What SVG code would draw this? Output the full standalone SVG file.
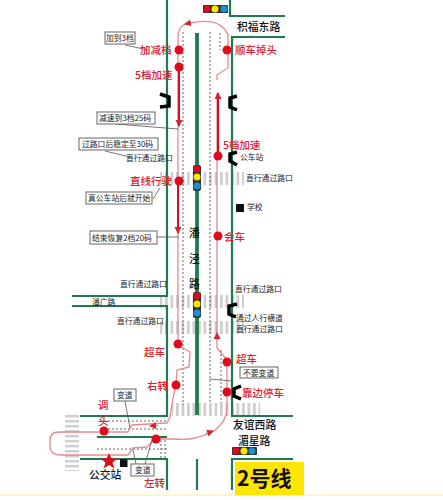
<svg xmlns="http://www.w3.org/2000/svg" width="443" height="500" viewBox="0 0 443 500">
<defs>
<marker id="a" markerWidth="8" markerHeight="8" refX="6" refY="3.500" orient="auto" markerUnits="userSpaceOnUse"><path d="M0 0L7 3.500L0 7z" fill="#d8232f"/></marker>
<pattern id="cw" width="5.500" height="10" patternUnits="userSpaceOnUse"><rect width="2.800" height="10" fill="#cfcfcf"/></pattern>
<pattern id="cwh" width="10" height="5" patternUnits="userSpaceOnUse"><rect width="10" height="2.500" fill="#cfcfcf"/></pattern>
</defs>
<style>
.r{fill:none;stroke:#1f7a4d;stroke-width:2.200}
.m{fill:none;stroke:#1f7a4d;stroke-width:3.800}
.d{fill:none;stroke:#666;stroke-width:1;stroke-dasharray:2 2}
.p{fill:none;stroke:#e58a8f;stroke-width:1.300}
.t{fill:none;stroke:#e00a1e;stroke-width:2}
.b{fill:none;stroke:#000;stroke-width:3.500}
.l{fill:none;stroke:#555;stroke-width:.8}
.dot{fill:#e00a1e}
text{font-family:"Noto Sans CJK SC","Liberation Sans",sans-serif}
.red{fill:#e0202e;font-size:10.500px;font-weight:500}
.k{fill:#222;font-size:7.800px}
.big{fill:#111;font-size:10.800px;font-weight:500}
.box{fill:#fff;stroke:#666;stroke-width:1}
</style>
<g id="crosswalks">
<rect x="160" y="172" width="84" height="13" fill="url(#cw)"/>
<rect x="160" y="295" width="84" height="13" fill="url(#cw)"/>
<rect x="160" y="321" width="84" height="13" fill="url(#cw)"/>
<rect x="172" y="403" width="88" height="13" fill="url(#cw)"/>
<rect x="65" y="415" width="14" height="56" fill="url(#cwh)"/>
</g>
<g id="roads">
<path class="r" d="M167 0V296H72M72 306H167V416H80M80 459H167V490"/>
<path class="r" d="M230 0V16H285M285 37H232V416H293M293 459H232V490"/>
<path class="r" d="M197 459V490"/>
<path class="m" d="M197 33V415"/>
<path class="r" d="M97 437H167"/>
<path class="d" d="M183 32V405M210 32V403M220 33V50M221 350V403M100 421H167M100 429H167M97 449H167M161 440V458M165 440V458"/>
</g>
<g id="connectors">
<path class="p" d="M170 417L167 423L132 425L128 432H60C52 432 50 435 50 441V446C50 451 52 455 60 455H128L133 448L147 447L155 439H175C190 441 205 436 214 431C222 425 227 418 227 408V360L217 348V93" />
<path class="p" d="M170 417L173 398L176 385L177 370L189 367L190 352L178 345V38C178 28 182 24 190 23C205 20 222 20 228 35V68L217 75V80"/>
<path class="p" d="M190 23L185 24" marker-end="url(#a)"/>
<path class="p" d="M158 425.500L150 426" marker-end="url(#a)"/>
<path class="p" d="M205 434L213 431" marker-end="url(#a)"/>
<path class="p" d="M217 340V333" marker-end="url(#a)"/>
<path class="t" d="M179 67V126" marker-end="url(#a)"/>
<path class="t" d="M218 155V93" marker-end="url(#a)"/>
<path class="t" d="M178 181V233" marker-end="url(#a)"/>
<path class="l" d="M125 45L148 50M178 129L116 124M105 151L130 157M160 188L153 199M138 237H179M209 379L232 381M125 401L130 428M136 464L133 450M145 464L152 440"/>
</g>
<g id="brackets">
<path class="b" d="M160 94L169 97V106L160 107"/>
<path class="b" d="M237 96L230 98V107L237 110"/>
<path class="b" d="M237 152L230 154V161L237 165"/>
<path class="b" d="M237 304L229 306V314L236 317" />
<path class="b" d="M241 386L234 389V396L241 399"/>
</g>
<g id="node-dots">
<circle class="dot" cx="179" cy="50" r="4.500"/><circle class="dot" cx="227" cy="50" r="4.500"/>
<circle class="dot" cx="179" cy="67" r="4.500"/><circle class="dot" cx="218" cy="156" r="4.500"/>
<circle class="dot" cx="179" cy="181" r="4.500"/><circle class="dot" cx="218" cy="236" r="4.500"/>
<circle class="dot" cx="178" cy="344" r="4.500"/><circle class="dot" cx="227" cy="362" r="4.500"/>
<circle class="dot" cx="176" cy="385" r="4.500"/><circle class="dot" cx="227" cy="392" r="4.500"/>
<circle class="dot" cx="104" cy="431" r="4.500"/><circle class="dot" cx="156" cy="439" r="4.500"/>
</g>
<g id="lights">
<g id="light-top"><rect x="203" y="5" width="25" height="8" rx="1" fill="#333"/><circle cx="207" cy="9" r="3.500" fill="#e00a1e"/><circle cx="215" cy="9" r="3.500" fill="#ffe600"/><circle cx="224" cy="9" r="3.500" fill="#1c8fd6"/></g>
<g id="light-1"><rect x="193" y="165" width="8" height="26" rx="2" fill="#333"/><circle cx="197" cy="169" r="3.500" fill="#e00a1e"/><circle cx="197" cy="177" r="3.500" fill="#ffe600"/><circle cx="197" cy="186" r="3.500" fill="#1c8fd6"/></g>
<g id="light-2"><rect x="193" y="292" width="8" height="26" rx="2" fill="#333"/><circle cx="197" cy="296" r="3.500" fill="#e00a1e"/><circle cx="197" cy="304" r="3.500" fill="#ffe600"/><circle cx="197" cy="313" r="3.500" fill="#1c8fd6"/></g>
<g id="light-bottom"><rect x="232" y="447" width="25" height="8" rx="1" fill="#333"/><circle cx="236" cy="451" r="3.500" fill="#e00a1e"/><circle cx="244" cy="451" r="3.500" fill="#ffe600"/><circle cx="252" cy="451" r="3.500" fill="#1c8fd6"/></g>
</g>
<g id="red-labels">
<text class="red" x="140" y="54">加减档</text><text class="red" x="235" y="54">顺车掉头</text>
<text class="red" x="135" y="79">5档加速</text><text class="red" x="223" y="149">5档加速</text>
<text class="red" x="130" y="185">直线行驶</text><text class="red" x="224" y="241">会车</text>
<text class="red" x="144" y="356">超车</text><text class="red" x="236" y="363">超车</text>
<text class="red" x="147" y="390">右转</text><text class="red" x="242" y="397">靠边停车</text>
<text class="red" x="144" y="487">左转</text>
<text class="red" x="98" y="409">调</text><text class="red" x="98" y="425">头</text>
</g>
<g id="box-labels">
<rect class="box" x="105" y="32" width="30" height="12"/><text class="k" x="106" y="41">加到3档</text>
<rect class="box" x="97" y="112" width="58" height="12"/><text class="k" x="99" y="121">减速到3档25码</text>
<rect class="box" x="79" y="138" width="79" height="12"/><text class="k" x="82" y="147">过路口后稳定至30码</text>
<rect class="box" x="86" y="192" width="66" height="12"/><text class="k" x="88" y="201">真公车站后就开始</text>
<rect class="box" x="90" y="231" width="67" height="13"/><text class="k" x="92" y="241">结束恢复2档20码</text>
<rect class="box" x="240" y="367" width="38" height="11"/><text class="k" x="243" y="376">不要变道</text>
<rect class="box" x="114" y="389" width="22" height="12"/><text class="k" x="117" y="398">变道</text>
<rect class="box" x="131" y="464" width="23" height="12"/><text class="k" x="135" y="473">变道</text>
</g>
<g id="plain-labels">
<text class="k" x="126" y="161">直行通过路口</text>
<text class="k" x="246" y="181">直行通过路口</text>
<text class="k" x="240" y="160">公车站</text>
<text class="k" x="247" y="210">学校</text>
<rect x="236" y="204" width="8" height="8" fill="#111"/>
<text class="k" x="120" y="287">直行通过路口</text>
<text class="k" x="235" y="292">直行通过路口</text>
<text class="k" x="92" y="305">潘广路</text>
<text class="k" x="117" y="324">直行通过路口</text>
<text class="k" x="236" y="321">通过人行横道</text>
<text class="k" x="236" y="332">直行通过路口</text>
<text class="big" x="189" y="237">潘</text><text class="big" x="189" y="263">泾</text><text class="big" x="189" y="288">路</text>
<text class="big" x="237" y="31">积福东路</text>
<text class="big" x="233" y="429">友谊西路</text>
<text class="big" x="238" y="445">湄星路</text>
<text class="big" x="89" y="479">公交站</text>
<path id="star" d="M109 453L111.300 458.500H117.500L112.500 462.500L114.500 468.500L109 465L103.500 468.500L105.500 462.500L100.500 458.500H106.700Z" fill="#e00a1e"/>
<rect x="120" y="459" width="7.500" height="8" fill="#111"/>
</g>
<g id="title">
<rect x="0" y="494.500" width="443" height="1.500" fill="#fdf6a8"/>
<rect x="235" y="462" width="69" height="33" fill="#ffe600"/>
<text x="237" y="486" font-size="21" font-weight="700" fill="#111">2号线</text>
</g>
</svg>
